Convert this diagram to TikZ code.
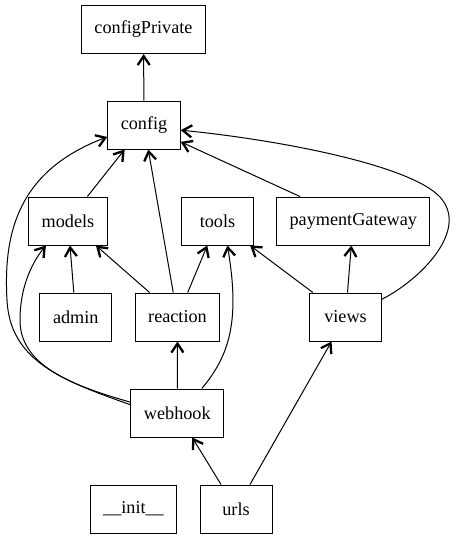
\documentclass[tikz,border=0pt]{standalone}
\usepackage{fontspec}
\setmainfont{Liberation Serif}
\usetikzlibrary{arrows.meta}

\begin{document}
\begin{tikzpicture}[
    x=1pt, y=-1pt,
    import/.style={-{Straight Barb[length=9pt,width=12pt,line width=2.3pt]},line width=1pt},
    box/.style={rectangle,draw,line width=1pt,minimum width=72pt,minimum height=48pt,inner xsep=13pt,font=\fontsize{18.2}{20}\selectfont}
]
\useasboundingbox (0,0) rectangle (456,539);

% Modules
\node[box] (configPrivate) at (143.5,29.5) {configPrivate};
\node[box] (config) at (144,125) {config};
\node[box] (models) at (68,221) {models};
\node[box] (tools) at (217.5,221) {tools};
\node[box] (paymentGateway) at (353.3,221) {paymentGateway};
\node[box] (admin) at (75.8,317) {admin};
\node[box] (reaction) at (177.5,317) {reaction};
\node[box] (views) at (345.5,317) {views};
\node[box] (webhook) at (177.3,413) {webhook};
\node[box] (init) at (133.5,509) {\_\_init\_\_};
\node[box] (urls) at (236,509) {urls};

% Imports
\draw[import] (config) -- (configPrivate);
\draw[import] (models) -- (config);
\draw[import] (reaction) -- (config);
\draw[import] (paymentGateway) -- (config);
\draw[import] (views.26) .. controls (420,280) and (470,230) .. (440,197)
    .. controls (410,165) and (280,140) .. (config.-8);
\draw[import] (webhook.170) .. controls (60,380) and (10,360) .. (7,300)
    .. controls (3,230) and (20,170) .. (config.198);
\draw[import] (webhook.167) .. controls (70,385) and (20,365) .. (20,320)
    .. controls (20,290) and (30,265) .. (models.228);
\draw[import] (admin) -- (models);
\draw[import] (reaction) -- (models);
\draw[import] (reaction) -- (tools);
\draw[import] (webhook.45) .. controls (230,355) and (240,320) .. (tools.-68);
\draw[import] (views) -- (tools);
\draw[import] (views) -- (paymentGateway);
\draw[import] (webhook) -- (reaction);
\draw[import] (urls) -- (webhook);
\draw[import] (urls) -- (views);

\end{tikzpicture}
\end{document}
